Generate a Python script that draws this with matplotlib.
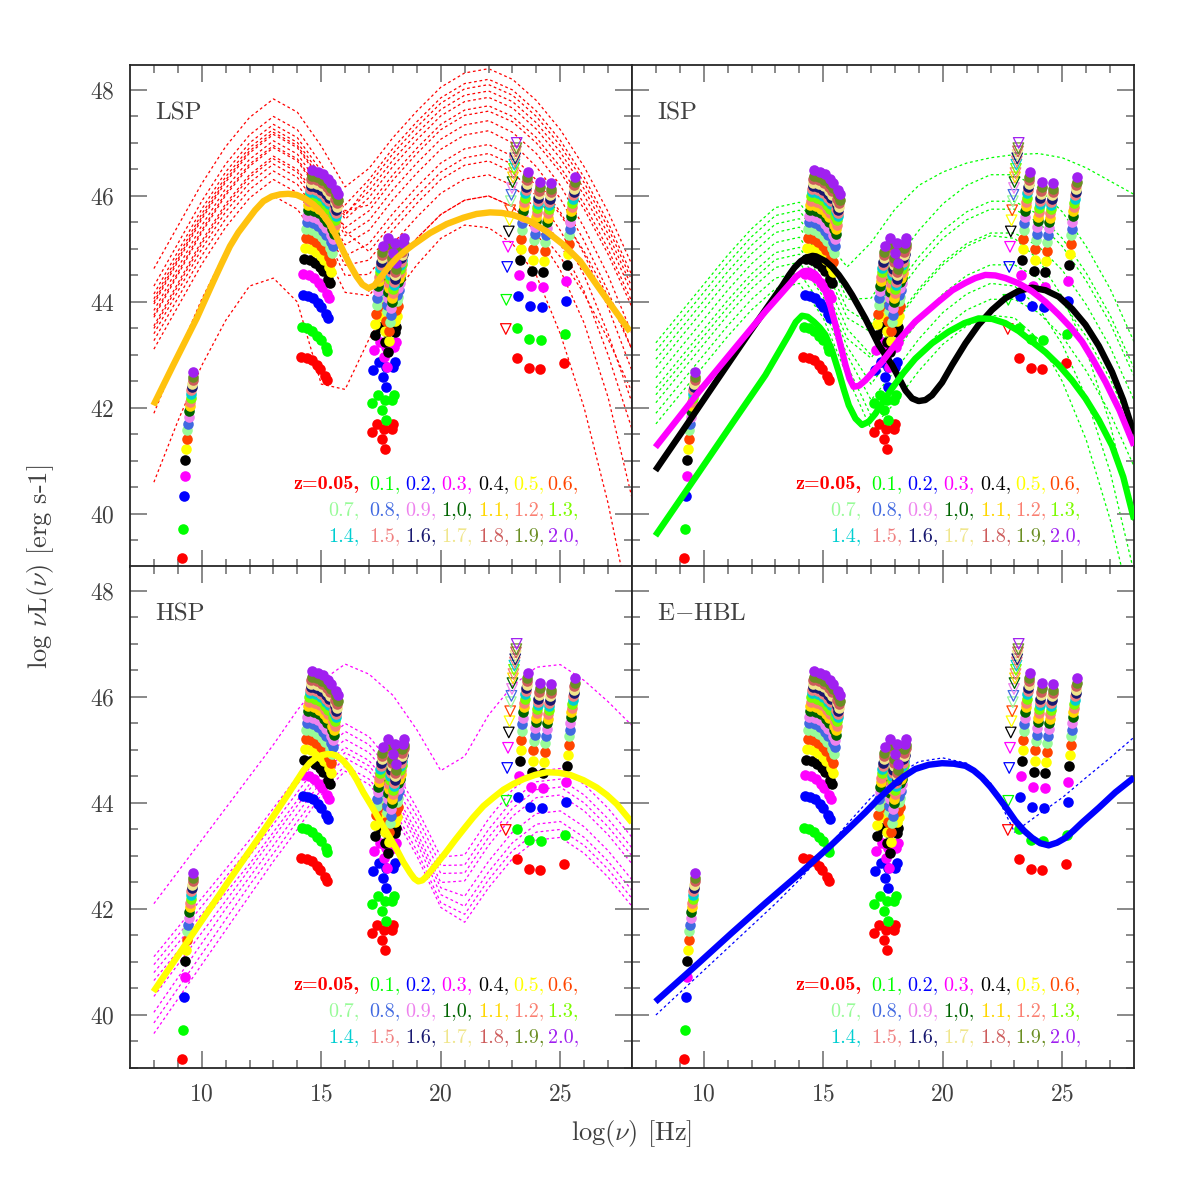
import numpy as np
import matplotlib.pyplot as plt

plt.rcParams['font.family'] = 'cmr10'
plt.rcParams['mathtext.fontset'] = 'cm'
plt.rcParams['axes.formatter.use_mathtext'] = True

# redshifts of the simulated sources and their colours
z = [0.05, 0.1, 0.2, 0.3, 0.4, 0.5, 0.6, 0.7, 0.8, 0.9, 1.0,
     1.1, 1.2, 1.3, 1.4, 1.5, 1.6, 1.7, 1.8, 1.9, 2.0]
z_labels = ['z=0.05,', '0.1,', '0.2,', '0.3,', '0.4,', '0.5,', '0.6,',
            '0.7,', '0.8,', '0.9,', '1,0,', '1.1,', '1.2,', '1.3,',
            '1.4,', '1.5,', '1.6,', '1.7,', '1.8,', '1.9,', '2.0,']
z_colors = ['#FF0000', '#00FF00', '#0000FF', '#FF00FF', '#000000', '#FFFF00', '#FF4500',
            '#98FB98', '#4169E1', '#EE82EE', '#006400', '#FFD700', '#FA8072', '#7CFC00',
            '#00CED1', '#F08080', '#191970', '#F0E68C', '#CD5C5C', '#6B8E23', '#A020F0']
# luminosity shift of each redshift relative to z=0.05
dlum = [0.0, 0.55, 1.17, 1.55, 1.84, 2.05, 2.24, 2.41, 2.53, 2.66, 2.77,
        2.86, 2.94, 3.02, 3.10, 3.16, 3.22, 3.28, 3.35, 3.41, 3.51]

# flux limits of each band, at z=0.05 (observed frequency, luminosity)
radio_x = [9.17]
radio_y = [39.17]
opt_x = [14.14, 14.38, 14.59, 14.80, 14.93, 15.14, 15.22]
opt_y = [42.97, 42.95, 42.90, 42.81, 42.74, 42.60, 42.52]
xray_x = [17.09, 17.33, 17.51, 17.61, 17.65, 17.93, 18.00]
xray_y = [41.54, 41.69, 41.41, 41.60, 41.22, 41.60, 41.69]
gam_x = [23.16, 23.67, 24.15, 25.14]
gam_y = [42.95, 42.75, 42.73, 42.85]
ul_x = [22.70]
ul_y = [43.49]

# frequency grid of the thin dotted SEDs
grid = [8, 9, 10, 11, 12, 13, 14, 15, 16, 17, 18, 19, 20, 21, 22, 23, 24, 25, 26, 27, 28]

lsp_dotted = [
    [44.63, 45.43, 46.23, 46.93, 47.48, 47.83, 47.58, 46.94, 46.17, 46.52, 47.10, 47.60, 48.05, 48.32, 48.40, 48.20, 47.80, 47.25, 46.55, 45.70, 44.70],
    [44.15, 44.95, 45.75, 46.45, 47.00, 47.35, 47.10, 46.47, 45.83, 46.31, 46.90, 47.40, 47.85, 48.12, 48.20, 48.00, 47.60, 47.05, 46.35, 45.50, 44.50],
    [44.06, 44.86, 45.66, 46.36, 46.91, 47.26, 47.01, 46.38, 45.66, 46.09, 46.68, 47.18, 47.63, 47.90, 47.98, 47.78, 47.38, 46.83, 46.13, 45.28, 44.28],
    [43.96, 44.76, 45.56, 46.26, 46.81, 47.16, 46.91, 46.28, 45.56, 45.97, 46.56, 47.06, 47.51, 47.78, 47.86, 47.66, 47.26, 46.71, 46.01, 45.16, 44.16],
    [43.84, 44.64, 45.44, 46.14, 46.69, 47.04, 46.79, 46.16, 45.40, 45.72, 46.30, 46.80, 47.25, 47.52, 47.60, 47.40, 47.00, 46.45, 45.75, 44.90, 43.90],
    [43.71, 44.51, 45.31, 46.01, 46.56, 46.91, 46.66, 46.03, 45.25, 45.54, 46.12, 46.62, 47.07, 47.34, 47.42, 47.20, 46.80, 46.20, 45.40, 44.50, 43.40],
    [43.55, 44.35, 45.15, 45.85, 46.40, 46.75, 46.50, 45.87, 45.08, 45.35, 45.93, 46.43, 46.88, 47.15, 47.23, 47.00, 46.55, 45.95, 45.15, 44.20, 43.10],
    [43.40, 44.20, 45.00, 45.70, 46.25, 46.60, 46.35, 45.72, 44.87, 45.10, 45.67, 46.17, 46.62, 46.89, 46.97, 46.75, 46.30, 45.70, 44.90, 43.90, 42.70],
    [43.27, 44.07, 44.87, 45.57, 46.12, 46.47, 46.22, 45.58, 44.69, 44.79, 45.36, 45.86, 46.31, 46.58, 46.66, 46.45, 46.00, 45.35, 44.50, 43.40, 42.10],
    [43.11, 43.91, 44.71, 45.41, 45.96, 46.31, 46.06, 45.42, 44.50, 44.52, 45.10, 45.60, 46.05, 46.32, 46.40, 46.20, 45.75, 45.10, 44.20, 43.00, 41.60],
    [41.90, 43.00, 44.05, 44.95, 45.65, 46.00, 45.75, 45.10, 44.18, 44.12, 44.70, 45.20, 45.65, 45.92, 46.00, 45.80, 45.30, 44.60, 43.60, 42.20, 40.30],
    [40.60, 41.75, 42.80, 43.65, 44.30, 44.45, 44.00, 42.45, 42.35, 43.30, 44.10, 44.70, 45.20, 45.45, 45.40, 45.10, 44.50, 43.40, 42.00, 40.20, 38.00],
    [44.30, 45.10, 45.90, 46.60, 47.15, 47.50, 47.25, 46.60, 45.72, 45.83, 46.40, 46.90, 47.35, 47.62, 47.70, 47.50, 47.10, 46.55, 45.85, 45.00, 44.00],
    [43.75, 44.55, 45.35, 46.05, 46.60, 46.95, 46.70, 46.05, 45.63, 46.21, 46.80, 47.30, 47.75, 48.02, 48.10, 47.90, 47.50, 46.95, 46.25, 45.40, 44.40],
    [43.50, 44.30, 45.10, 45.80, 46.35, 46.70, 46.45, 45.80, 44.82, 44.20, 44.70, 45.20, 45.65, 45.92, 46.00, 45.80, 45.40, 44.85, 44.15, 43.30, 42.30],
    [44.00, 44.80, 45.60, 46.30, 46.85, 47.20, 46.95, 46.30, 45.33, 44.95, 45.50, 46.00, 46.45, 46.72, 46.80, 46.60, 46.20, 45.65, 44.95, 44.10, 43.10],
]

isp_dotted = [
    [43.23, 43.78, 44.33, 44.88, 45.38, 45.78, 45.88, 45.23, 44.66, 45.12, 45.75, 46.20, 46.45, 46.62, 46.72, 46.78, 46.80, 46.72, 46.53, 46.28, 46.03],
    [43.08, 43.63, 44.18, 44.73, 45.23, 45.63, 45.73, 45.08, 44.05, 44.07, 44.75, 45.35, 45.85, 46.20, 46.40, 46.40, 46.15, 45.70, 45.05, 44.25, 43.25],
    [42.92, 43.47, 44.02, 44.57, 45.07, 45.47, 45.57, 44.92, 43.86, 43.58, 44.25, 44.85, 45.35, 45.70, 45.90, 45.90, 45.65, 45.20, 44.55, 43.75, 42.75],
    [42.76, 43.31, 43.86, 44.41, 44.91, 45.31, 45.41, 44.76, 43.70, 43.43, 44.10, 44.70, 45.20, 45.55, 45.75, 45.75, 45.50, 45.05, 44.40, 43.60, 42.60],
    [42.57, 43.12, 43.67, 44.22, 44.72, 45.12, 45.22, 44.57, 43.49, 43.00, 43.65, 44.25, 44.75, 45.10, 45.30, 45.30, 45.05, 44.60, 43.95, 43.15, 42.15],
    [42.38, 42.93, 43.48, 44.03, 44.53, 44.93, 45.03, 44.38, 43.31, 42.94, 43.60, 44.20, 44.70, 45.05, 45.25, 45.20, 44.80, 44.10, 43.10, 41.70, 39.80],
    [42.25, 42.80, 43.35, 43.90, 44.40, 44.80, 44.90, 44.25, 43.16, 42.45, 43.05, 43.65, 44.15, 44.50, 44.70, 44.70, 44.45, 44.00, 43.35, 42.55, 41.55],
    [42.10, 42.65, 43.20, 43.75, 44.25, 44.65, 44.75, 44.10, 43.00, 42.15, 42.70, 43.30, 43.80, 44.15, 44.35, 44.30, 43.90, 43.20, 42.20, 40.80, 38.90],
    [41.90, 42.45, 43.00, 43.55, 44.05, 44.45, 44.55, 43.90, 42.80, 41.85, 42.40, 43.00, 43.50, 43.85, 44.05, 44.05, 43.80, 43.35, 42.70, 41.90, 40.90],
    [41.70, 42.25, 42.80, 43.35, 43.85, 44.25, 44.35, 43.70, 42.60, 41.60, 42.10, 42.70, 43.20, 43.55, 43.75, 43.70, 43.30, 42.50, 41.40, 39.90, 38.00],
]

hsp_dotted = [
    [42.10, 42.70, 43.30, 43.90, 44.50, 45.10, 45.75, 46.30, 46.62, 46.43, 46.03, 45.38, 44.61, 44.88, 45.66, 46.21, 46.56, 46.61, 46.31, 45.91, 45.46],
    [41.10, 41.65, 42.20, 42.75, 43.30, 43.90, 44.50, 45.10, 45.50, 45.25, 44.70, 43.90, 42.98, 43.02, 43.70, 44.25, 44.60, 44.65, 44.35, 43.90, 43.35],
    [40.95, 41.50, 42.05, 42.60, 43.15, 43.75, 44.35, 44.95, 45.35, 45.10, 44.55, 43.75, 42.82, 42.83, 43.50, 44.05, 44.40, 44.45, 44.15, 43.70, 43.15],
    [40.80, 41.35, 41.90, 42.45, 43.00, 43.60, 44.20, 44.80, 45.20, 44.95, 44.40, 43.60, 42.67, 42.68, 43.35, 43.90, 44.25, 44.30, 44.00, 43.55, 43.00],
    [40.65, 41.20, 41.75, 42.30, 42.85, 43.45, 44.05, 44.65, 45.05, 44.80, 44.25, 43.45, 42.50, 42.53, 43.20, 43.75, 44.10, 44.15, 43.85, 43.40, 42.85],
    [40.35, 40.95, 41.55, 42.15, 42.75, 43.35, 43.95, 44.55, 44.95, 44.70, 44.15, 43.35, 42.40, 42.24, 42.90, 43.45, 43.80, 43.85, 43.55, 43.10, 42.55],
    [40.05, 40.70, 41.35, 42.00, 42.60, 43.20, 43.80, 44.40, 44.85, 44.60, 44.05, 43.25, 42.27, 42.05, 42.70, 43.25, 43.60, 43.65, 43.35, 42.90, 42.35],
    [39.85, 40.50, 41.15, 41.80, 42.45, 43.05, 43.65, 44.25, 44.70, 44.45, 43.90, 43.10, 42.12, 41.90, 42.55, 43.10, 43.45, 43.50, 43.20, 42.75, 42.20],
    [39.65, 40.30, 40.95, 41.60, 42.25, 42.90, 43.50, 44.15, 44.60, 44.35, 43.80, 43.00, 42.03, 41.75, 42.40, 42.95, 43.30, 43.35, 43.05, 42.60, 42.05],
]

ehbl_dotted = [
    [40.00, 40.42, 40.84, 41.26, 41.68, 42.10, 42.55, 43.05, 43.60, 44.10, 44.50, 44.78, 44.85, 44.75, 44.38, 43.45, 43.78, 44.10, 44.48, 44.85, 45.24],
]

# thick template SEDs
lsp_x = [7.98, 8.81, 9.79, 10.49, 10.84, 11.18, 11.53, 11.88, 12.23, 12.58, 12.93, 13.28, 13.62, 13.97,
         14.32, 14.67, 15.02, 15.37, 15.65, 15.93, 16.20, 16.48, 16.72, 16.97, 17.22, 17.46, 17.80,
         18.16, 18.50, 18.85, 19.55, 20.25, 20.95, 21.50, 22.06, 22.55, 23.04, 23.74, 24.43, 25.13,
         25.83, 26.53, 27.22, 27.92]
lsp_y = [42.05, 42.81, 43.69, 44.39, 44.73, 45.05, 45.31, 45.52, 45.73, 45.90, 45.99, 46.03, 46.04, 46.02,
         45.95, 45.84, 45.68, 45.46, 45.22, 44.95, 44.70, 44.48, 44.33, 44.26, 44.31, 44.45, 44.65,
         44.83, 44.96, 45.08, 45.30, 45.47, 45.59, 45.66, 45.69, 45.68, 45.64, 45.52, 45.33, 45.08,
         44.77, 44.32, 43.88, 43.44]

isp_black_x = [7.98, 9.09, 10.49, 11.88, 13.28, 13.56, 13.80, 14.06, 14.32, 14.55, 14.70, 15.09, 15.37,
               15.65, 15.93, 16.21, 16.76, 17.32, 17.88, 18.44, 18.72, 18.99, 19.27, 19.55, 19.97,
               20.39, 20.95, 21.50, 22.06, 22.62, 23.18, 23.74, 24.30, 24.85, 25.41, 25.97, 26.53,
               27.08, 27.55, 28.0]
isp_black_y = [40.82, 41.55, 42.48, 43.40, 44.30, 44.50, 44.65, 44.77, 44.84, 44.87, 44.86, 44.77, 44.66,
               44.51, 44.33, 44.13, 43.69, 43.19, 42.81, 42.33, 42.18, 42.13, 42.15, 42.24, 42.48,
               42.81, 43.22, 43.57, 43.85, 44.07, 44.21, 44.27, 44.22, 44.10, 43.87, 43.57, 43.17,
               42.68, 42.15, 41.51]
isp_mag_x = [7.98, 9.79, 11.18, 12.58, 13.56, 13.87, 14.18, 14.42, 14.67, 14.88, 15.09, 15.30, 15.51,
             15.72, 15.93, 16.10, 16.27, 16.50, 16.76, 17.10, 17.46, 18.16, 18.85, 19.83, 20.40,
             20.95, 21.36, 21.78, 22.20, 22.62, 23.18, 23.74, 24.30, 24.85, 25.35, 25.83, 26.30,
             26.81, 27.40, 28.0]
isp_mag_y = [41.26, 42.30, 43.06, 43.82, 44.32, 44.48, 44.58, 44.59, 44.53, 44.40, 44.20, 43.92, 43.57,
             43.19, 42.81, 42.55, 42.40, 42.42, 42.52, 42.69, 42.87, 43.28, 43.63, 44.01, 44.22,
             44.36, 44.45, 44.51, 44.50, 44.45, 44.35, 44.20, 44.00, 43.76, 43.52, 43.25, 42.90,
             42.49, 41.95, 41.29]
isp_green_x = [7.98, 9.79, 11.18, 12.58, 13.56, 13.85, 14.11, 14.35, 14.60, 14.85, 15.09, 15.37, 15.65,
               15.86, 16.07, 16.35, 16.62, 16.90, 17.18, 17.50, 17.88, 18.35, 18.85, 19.55, 20.25,
               20.90, 21.50, 22.06, 22.62, 23.18, 23.74, 24.30, 24.85, 25.41, 25.97, 26.53, 27.08,
               27.55, 28.0]
isp_green_y = [39.59, 40.78, 41.70, 42.62, 43.38, 43.62, 43.74, 43.72, 43.63, 43.52, 43.38, 43.08, 42.68,
               42.35, 42.05, 41.80, 41.68, 41.74, 41.89, 42.12, 42.37, 42.66, 42.93, 43.22, 43.44,
               43.60, 43.69, 43.68, 43.60, 43.45, 43.25, 43.05, 42.81, 42.52, 42.18, 41.77, 41.29,
               40.70, 39.90]

hsp_x = [7.98, 9.79, 11.18, 12.58, 13.56, 14.25, 14.53, 14.81, 15.02, 15.23, 15.44, 15.65, 15.93, 16.21,
         16.48, 16.76, 17.11, 17.46, 17.81, 18.16, 18.44, 18.72, 18.90, 19.06, 19.23, 19.41, 19.83,
         20.25, 20.60, 20.95, 21.36, 21.78, 22.20, 22.62, 23.04, 23.46, 23.95, 24.43, 24.92, 25.41,
         25.97, 26.53, 26.95, 27.36, 28.0]
hsp_y = [40.44, 41.64, 42.56, 43.47, 44.13, 44.61, 44.76, 44.86, 44.90, 44.92, 44.92, 44.89, 44.79, 44.64,
         44.44, 44.20, 43.94, 43.66, 43.39, 43.12, 42.88, 42.68, 42.57, 42.52, 42.54, 42.62, 42.85,
         43.09, 43.30, 43.50, 43.73, 43.94, 44.10, 44.25, 44.36, 44.45, 44.53, 44.58, 44.57, 44.53,
         44.43, 44.29, 44.15, 43.98, 43.63]

ehbl_x = [7.98, 9.79, 11.18, 12.58, 13.97, 15.37, 16.07, 16.76, 17.32, 17.88, 18.37, 18.85, 19.41, 19.97,
          20.46, 20.95, 21.30, 21.64, 22.00, 22.34, 22.70, 23.04, 23.39, 23.74, 24.08, 24.43, 24.78,
          25.13, 25.48, 25.83, 26.53, 27.22, 28.0]
ehbl_y = [40.25, 40.98, 41.55, 42.11, 42.65, 43.22, 43.52, 43.82, 44.08, 44.32, 44.50, 44.64, 44.72, 44.75,
          44.74, 44.70, 44.61, 44.48, 44.30, 44.10, 43.88, 43.66, 43.48, 43.34, 43.24, 43.20, 43.25,
          43.34, 43.48, 43.63, 43.91, 44.20, 44.48]

panels = [
    ('LSP', 0, 0, lsp_dotted, '#FF0000', [(lsp_x, lsp_y, '#FFC20E')]),
    ('ISP', 0, 1, isp_dotted, '#00FF00', [(isp_black_x, isp_black_y, '#000000'),
                                          (isp_mag_x, isp_mag_y, '#FF00FF'),
                                          (isp_green_x, isp_green_y, '#00FF00')]),
    ('HSP', 1, 0, hsp_dotted, '#FF00FF', [(hsp_x, hsp_y, '#FFFF00')]),
    ('E$-$HBL', 1, 1, ehbl_dotted, '#0000FF', [(ehbl_x, ehbl_y, '#0000FF')]),
]

fig = plt.figure(figsize=(11.96, 11.96), dpi=100)
W = 502 / 1196
lefts = [130 / 1196, 632 / 1196]
bottoms = [1 - 567 / 1196, 1 - 1068 / 1196]

leg_rows = [0.155, 0.104, 0.052]
leg_cols = [0.457, 0.476, 0.548, 0.620, 0.693, 0.763, 0.832]

for name, row, col, dotted, dcol, thick in panels:
    ax = fig.add_axes([lefts[col], bottoms[row], W, W])

    for yy in dotted:
        ax.plot(grid, yy, color=dcol, lw=0.9, ls=(0, (2.2, 2.2)), zorder=1)

    for i, zi in enumerate(z):
        c = z_colors[i]
        dz = np.log10(1 + zi)
        for bx, by in ((radio_x, radio_y), (opt_x, opt_y), (xray_x, xray_y), (gam_x, gam_y)):
            ax.scatter(np.array(bx) + dz, np.array(by) + dlum[i], s=58, color=c, lw=0, zorder=2)
        ax.scatter(np.array(ul_x) + dz, np.array(ul_y) + dlum[i], s=58, marker='v',
                   facecolors='none', edgecolors=c, linewidths=0.9, zorder=2)

    for xs, ys, c in thick:
        ax.plot(xs, ys, color=c, lw=4.6, solid_joinstyle='round', solid_capstyle='butt', zorder=3)

    ax.text(0.05, 0.892, name, transform=ax.transAxes, fontsize=18, color='0.25', va='baseline')

    for i, lab in enumerate(z_labels):
        r, k = divmod(i, 7)
        if k == 0:
            ax.text(leg_cols[0], leg_rows[r], lab, transform=ax.transAxes, ha='right', va='baseline',
                    fontsize=14.5, color=z_colors[i], family='cmb10' if i == 0 else 'cmr10')
        else:
            ax.text(leg_cols[k], leg_rows[r], lab, transform=ax.transAxes, ha='left', va='baseline',
                    fontsize=14.5, color=z_colors[i])

    ax.set_xlim(7, 28)
    ax.set_ylim(39, 48.47)
    ax.set_xticks([10, 15, 20, 25])
    ax.set_xticks(range(8, 28), minor=True)
    ax.set_yticks([40, 42, 44, 46, 48])
    ax.set_yticks(np.arange(39, 48.5, 0.5), minor=True)
    ax.tick_params(which='both', direction='in', top=True, right=True, color='0.5', width=1.3,
                   labelsize=17, labelcolor='0.25')
    ax.tick_params(which='major', length=12, pad=11)
    ax.tick_params(which='minor', length=6)
    if row == 0:
        ax.tick_params(labelbottom=False)
    if col == 1:
        ax.tick_params(labelleft=False)
    for sp in ax.spines.values():
        sp.set_color('0.15')
        sp.set_linewidth(1.3)

fig.text(0.034, 0.526, r'log $\nu$L($\nu$) [erg s-1]', rotation=90, ha='center', va='center',
         fontsize=19, color='0.25')
fig.text(0.528, 0.052, r'log($\nu$) [Hz]', ha='center', va='center', fontsize=19, color='0.25')

fig.savefig('out.png', dpi=100)
